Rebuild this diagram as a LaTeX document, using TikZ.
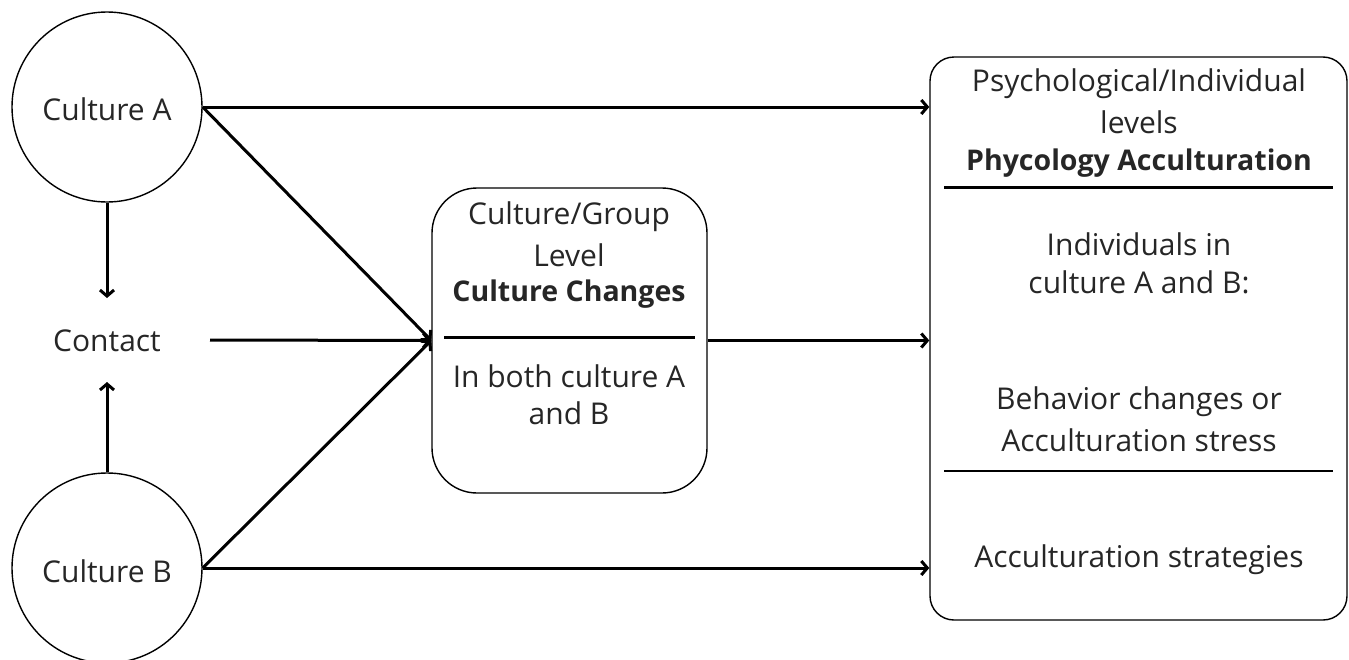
\documentclass[tikz,border=0pt]{standalone}
\usepackage{fontspec}
\setmainfont{Open Sans}
\usetikzlibrary{arrows.meta,calc}
\begin{document}
\begin{tikzpicture}[x=1pt,y=-1pt,
  txt/.style={font=\fontsize{30}{37}\selectfont,text=black!85,align=center,inner sep=0pt},
  bold/.style={txt,font=\fontsize{28.5}{37}\selectfont\bfseries},
  circ/.style={draw,circle,line width=1.4pt,minimum size=190pt,inner sep=0pt},
  rbox/.style={draw,line width=1.4pt,rectangle,inner sep=0pt},
  arr/.style={line width=3pt,-{Straight Barb[length=6pt,width=14pt,line width=3pt]}},
  sep/.style={line width=3pt},
  thinsep/.style={line width=1.5pt}]
\useasboundingbox (0,0) rectangle (1349,659);
% nodes
\node[circ] (A) at (107,107) {};
\node[txt] (Atxt) at (107,109) {Culture A};
\node[circ] (B) at (107,568) {};
\node[txt] (Btxt) at (107,571) {Culture B};
\node[txt] (C) at (107,341) {Contact};
\node[rbox,rounded corners=45pt,minimum width=275pt,minimum height=305pt] (M) at (569.5,340.5) {};
\node[rbox,rounded corners=24pt,minimum width=417pt,minimum height=563pt] (R) at (1138.5,338.5) {};
% middle texts
\node[txt] (m1) at (569,217) {Culture/Group};
\node[txt] (m2) at (569,255) {Level};
\node[bold] (m3) at (569,294) {Culture Changes};
\coordinate (ms1) at (444,337);
\coordinate (ms2) at (695,337);
\node[txt] (m4) at (569,376) {In both culture A};
\node[txt] (m5) at (569,413) {and B};
% right texts
\node[txt] (r1) at (1139,84) {Psychological/Individual};
\node[txt] (r2) at (1139,122) {levels};
\node[bold] (r3) at (1139,163) {Phycology Acculturation};
\coordinate (rs1) at (944,187);
\coordinate (rs2) at (1333,187);
\node[txt] (r4) at (1139,244) {Individuals in};
\node[txt] (r5) at (1139,282) {culture A and B:};
\node[txt] (r6) at (1139,402) {Behavior changes or};
\node[txt] (r7) at (1139,440) {Acculturation stress};
\coordinate (rt1) at (944,471);
\coordinate (rt2) at (1333,471);
\node[txt] (r8) at (1139,560) {Acculturation strategies};
% separators
\draw[sep] (ms1) -- (ms2);
\draw[sep] (rs1) -- (rs2);
\draw[thinsep] (rt1) -- (rt2);
% connectors
\coordinate (Cend) at (210,340);
\coordinate (Ctop) at (107,298);
\coordinate (Cbot) at (107,382);
\draw[arr] (A.south) -- (Ctop);
\draw[arr] (B.north) -- (Cbot);
\draw[arr] (Cend) -- (M.west);
\draw[arr] (A.east) -- (M.west);
\draw[arr] (B.east) -- (M.west);
\draw[arr] (M.east) -- (M.east -| R.west);
\draw[arr] (A.east) -- (A.east -| R.west);
\draw[arr] (B.east) -- (B.east -| R.west);
\end{tikzpicture}
\end{document}
